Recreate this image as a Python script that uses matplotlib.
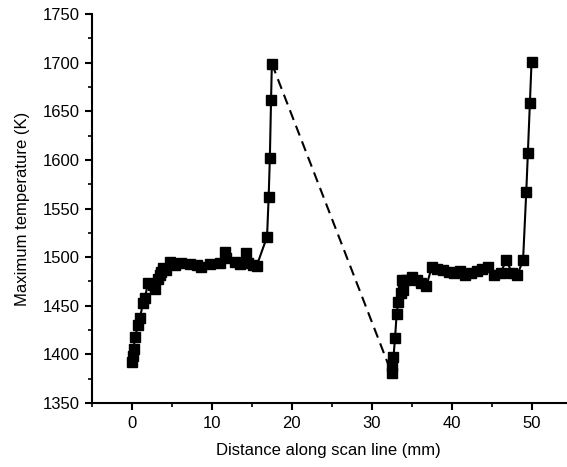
import matplotlib
matplotlib.use("Agg")
import matplotlib.pyplot as plt
from matplotlib.ticker import MultipleLocator

plt.rcParams['font.family'] = ['Liberation Sans', 'DejaVu Sans']

# Left scan segment
x_left = [0.08, 0.15, 0.25, 0.37, 0.8, 1.0, 1.4, 1.6, 2.04, 2.6, 2.9, 3.25, 3.5, 3.7, 3.9,
          4.3, 4.75, 5.4, 6.2, 7.25, 8.1, 8.6, 9.75, 11.0, 11.6, 11.8, 12.9, 13.5, 14.3,
          14.5, 15.1, 15.6, 16.9, 17.1, 17.25, 17.4, 17.5]
y_left = [1392, 1398, 1406, 1418, 1430, 1437, 1453, 1458, 1473, 1471, 1467, 1478, 1482,
          1485, 1489, 1487, 1495, 1492, 1494, 1493, 1492, 1490, 1493, 1494, 1505, 1499,
          1495, 1493, 1504, 1494, 1492, 1491, 1521, 1562, 1602, 1662, 1699]

# Right scan segment
x_right = [32.46, 32.55, 32.7, 32.9, 33.1, 33.3, 33.6, 33.9, 33.8, 34.3, 34.96, 35.6,
           36.2, 36.8, 37.5, 38.2, 38.9, 39.6, 40.3, 41.0, 41.7, 42.4, 43.1, 43.8, 44.5,
           45.3, 46.1, 46.8, 47.5, 48.2, 48.9, 49.3, 49.5, 49.75, 49.96]
y_right = [1381, 1388, 1397, 1417, 1442, 1454, 1463, 1466, 1476, 1476, 1480, 1476,
           1473, 1470, 1490, 1488, 1487, 1485, 1484, 1486, 1482, 1484, 1486, 1488, 1490,
           1482, 1484, 1497, 1484, 1482, 1497, 1567, 1607, 1658, 1701]

fig = plt.figure(figsize=(5.67, 4.67), dpi=100)
ax = fig.add_axes([0.162, 0.137, 0.836, 0.833])

ax.plot(x_left, y_left, '-', color='black', lw=1.5, marker='s', ms=6.5)
ax.plot([x_left[-1], x_right[0]], [y_left[-1], y_right[0]], '--', color='black',
        lw=1.5, dashes=(5, 3))
ax.plot(x_right, y_right, '-', color='black', lw=1.5, marker='s', ms=6.5)

ax.set_xlim(-5, 54.25)
ax.set_ylim(1350, 1750)
ax.xaxis.set_major_locator(MultipleLocator(10))
ax.xaxis.set_minor_locator(MultipleLocator(5))
ax.yaxis.set_major_locator(MultipleLocator(50))
ax.yaxis.set_minor_locator(MultipleLocator(25))

for s in ['top', 'right']:
    ax.spines[s].set_visible(False)
for s in ['left', 'bottom']:
    ax.spines[s].set_linewidth(1.5)

ax.tick_params(which='major', direction='out', length=5, width=1.5, labelsize=12, pad=4)
ax.tick_params(which='minor', direction='out', length=3, width=1.2)

ax.set_xlabel('Distance along scan line (mm)', fontsize=12, labelpad=9)
ax.set_ylabel('Maximum temperature (K)', fontsize=12, labelpad=9)

fig.savefig('out.png', dpi=100)
